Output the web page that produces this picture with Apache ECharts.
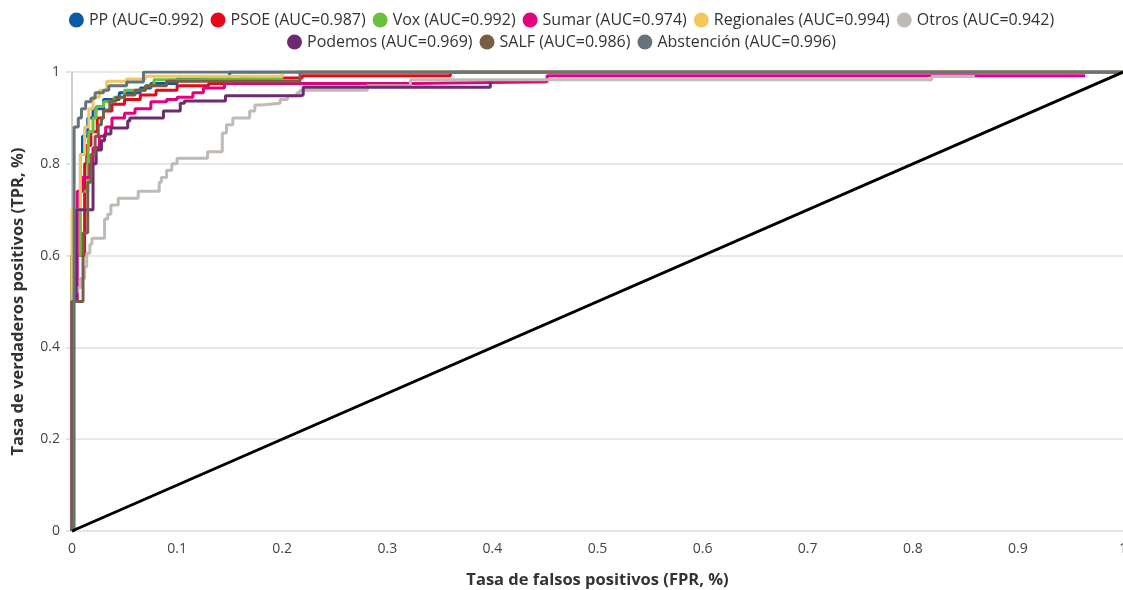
<!DOCTYPE html>
<html>
<head>
<meta charset="utf-8">
<script src="https://cdn.jsdelivr.net/npm/echarts@6/dist/echarts.min.js"></script>
<style>
  html, body { margin: 0; padding: 0; background: #fff; }
  #chart { width: 1123px; height: 590px; }
</style>
</head>
<body>
<div id="chart"></div>
<script>
// ROC points as [FPR, TPR] (step corners, step = "end")
const pp = [[0, 0], [0, 0.6], [0.003, 0.7], [0.008, 0.82], [0.01, 0.86], [0.015, 0.9], [0.02, 0.92], [0.03, 0.94], [0.045, 0.955], [0.065, 0.965], [0.075, 0.975], [0.1, 0.985], [0.15, 1], [1, 1]];
const psoe = [[0, 0], [0, 0.6], [0.012, 0.8], [0.014, 0.84], [0.018, 0.87], [0.024, 0.9], [0.03, 0.915], [0.038, 0.93], [0.05, 0.94], [0.065, 0.95], [0.08, 0.96], [0.1, 0.97], [0.13, 0.975], [0.16, 0.987], [0.219, 0.992], [0.36, 1], [1, 1]];
const vox = [[0, 0], [0, 0.6], [0.008, 0.74], [0.015, 0.8], [0.016, 0.87], [0.02, 0.9], [0.023, 0.925], [0.03, 0.935], [0.04, 0.945], [0.05, 0.96], [0.07, 0.97], [0.078, 0.983], [0.122, 0.987], [0.2, 1], [1, 1]];
const sumar = [[0, 0], [0, 0.5], [0.005, 0.74], [0.01, 0.77], [0.017, 0.8], [0.02, 0.835], [0.026, 0.86], [0.032, 0.88], [0.038, 0.9], [0.05, 0.91], [0.06, 0.92], [0.075, 0.935], [0.09, 0.94], [0.1, 0.945], [0.115, 0.955], [0.125, 0.965], [0.145, 0.975], [0.325, 0.979], [0.452, 0.992], [0.964, 0.992]];
const regionales = [[0, 0], [0, 0.7], [0.008, 0.82], [0.012, 0.88], [0.016, 0.92], [0.02, 0.945], [0.026, 0.96], [0.033, 0.98], [0.052, 0.985], [0.07, 0.991], [0.2, 1], [1, 1]];
const otros = [[0, 0], [0.001, 0.52], [0.005, 0.53], [0.008, 0.55], [0.012, 0.575], [0.014, 0.605], [0.017, 0.625], [0.019, 0.638], [0.031, 0.68], [0.034, 0.69], [0.037, 0.71], [0.044, 0.725], [0.063, 0.74], [0.083, 0.76], [0.085, 0.77], [0.09, 0.786], [0.095, 0.8], [0.1, 0.812], [0.129, 0.826], [0.143, 0.867], [0.147, 0.885], [0.153, 0.9], [0.169, 0.915], [0.174, 0.928], [0.18, 0.932], [0.198, 0.94], [0.205, 0.948], [0.214, 0.955], [0.217, 0.96], [0.281, 0.97], [0.322, 0.983], [0.818, 0.99], [0.859, 0.99]];
const podemos = [[0, 0], [0, 0.5], [0.004, 0.7], [0.02, 0.8], [0.023, 0.83], [0.028, 0.85], [0.031, 0.865], [0.037, 0.878], [0.053, 0.893], [0.055, 0.9], [0.087, 0.915], [0.103, 0.932], [0.107, 0.937], [0.146, 0.948], [0.217, 0.95], [0.22, 0.967], [0.398, 0.967], [0.398, 0.979]];
const salf = [[0, 0], [0, 0.5], [0.0105, 0.65], [0.015, 0.76], [0.018, 0.82], [0.022, 0.86], [0.025, 0.885], [0.028, 0.9], [0.03, 0.917], [0.036, 0.937], [0.042, 0.945], [0.05, 0.95], [0.06, 0.96], [0.07, 0.97], [0.09, 0.98], [0.217, 1], [1, 1]];
const abstencion = [[0, 0], [0.002, 0.88], [0.006, 0.9], [0.009, 0.92], [0.013, 0.935], [0.018, 0.943], [0.022, 0.955], [0.03, 0.96], [0.035, 0.97], [0.052, 0.978], [0.068, 1], [1, 1]];
const diagonal = [[0, 0], [1, 1]];

const parties = [
  { name: "PP (AUC=0.992)", data: pp, color: "#0b5aa7" },
  { name: "PSOE (AUC=0.987)", data: psoe, color: "#e3091a" },
  { name: "Vox (AUC=0.992)", data: vox, color: "#69c03c" },
  { name: "Sumar (AUC=0.974)", data: sumar, color: "#e5007e" },
  { name: "Regionales (AUC=0.994)", data: regionales, color: "#f3c65e" },
  { name: "Otros (AUC=0.942)", data: otros, color: "#bfbab4" },
  { name: "Podemos (AUC=0.969)", data: podemos, color: "#6c2b6e" },
  { name: "SALF (AUC=0.986)", data: salf, color: "#7a5d45" },
  { name: "Abstención (AUC=0.996)", data: abstencion, color: "#66727c" },
];

const font = "'Open Sans', Lato, sans-serif";
const chart = echarts.init(document.getElementById("chart"), null, { renderer: "canvas" });

// two centred legend rows, like the original
function legendRow(top, names) {
  return {
    top,
    left: "center",
    icon: "circle",
    itemWidth: 15,
    itemHeight: 15,
    itemGap: 7,
    textStyle: { fontSize: 16, color: "#333", fontFamily: font },
    data: names,
  };
}

chart.setOption({
  animation: false,
  backgroundColor: "#fff",
  textStyle: { fontFamily: font },
  legend: [
    legendRow(7, parties.slice(0, 6).map((p) => p.name)),
    legendRow(29, parties.slice(6).map((p) => p.name)),
  ],
  grid: { left: 72, right: 0, top: 72, bottom: 59, outerBoundsMode: "none" },
  xAxis: {
    type: "value",
    min: 0,
    max: 1,
    interval: 0.1,
    name: "Tasa de falsos positivos (FPR, %)",
    nameLocation: "middle",
    nameGap: 41,
    nameTextStyle: { fontSize: 16.5, fontWeight: "bold", color: "#333" },
    axisLine: { lineStyle: { color: "#e4e4e4", width: 2 } },
    axisTick: { show: false },
    axisLabel: { fontSize: 14, color: "#444", margin: 11 },
    splitLine: { show: false },
  },
  yAxis: {
    type: "value",
    min: 0,
    max: 1,
    interval: 0.2,
    name: "Tasa de verdaderos positivos (TPR, %)",
    nameLocation: "middle",
    nameGap: 45,
    nameTextStyle: { fontSize: 16.5, fontWeight: "bold", color: "#333" },
    axisLine: { show: true, lineStyle: { color: "#cfcbc6", width: 2 } },
    axisTick: { show: true, length: 6, lineStyle: { color: "#e4e4e4", width: 2 } },
    axisLabel: { fontSize: 14, color: "#444", margin: 12 },
    splitLine: { lineStyle: { color: "#e8e8e8", width: 2 } },
  },
  series: [
    ...parties.map((p) => ({
      name: p.name,
      type: "line",
      step: "end",
      data: p.data,
      showSymbol: false,
      symbol: "circle",
      itemStyle: { color: p.color },
      lineStyle: { color: p.color, width: 3 },
      emphasis: { disabled: true },
    })),
    {
      name: "Azar",
      type: "line",
      data: diagonal,
      showSymbol: false,
      lineStyle: { color: "#000", width: 3 },
      emphasis: { disabled: true },
    },
  ],
});
</script>
</body>
</html>
